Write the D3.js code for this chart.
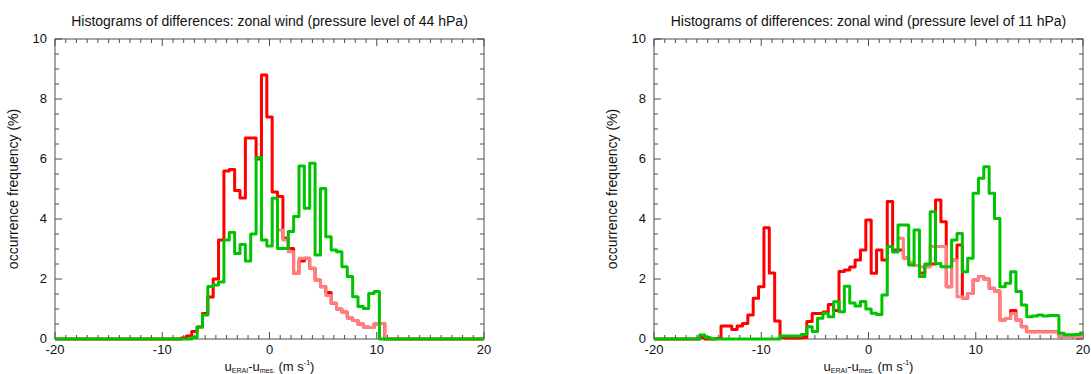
<!DOCTYPE html>
<html>
<head>
<meta charset="utf-8">
<script src="https://cdn.jsdelivr.net/npm/d3@7"></script>
<style>
  body { margin: 0; background: #fff; }
  svg { display: block; font-family: "Liberation Sans", Arial, sans-serif; }
</style>
</head>
<body>
<div id="chart"></div>
<script>
// bins are 0.5 m/s wide, centred on -20, -19.5, ... 20
var binCenters = d3.range(-20, 20.001, 0.5)

var leftRed = [
  0,0,0,0,0,0,0,0,0,0, 0,0,0,0,0,0,0,0,0,0, 0,0,0,0,
  0.03,0.1,0.25,0.4,0.85,1.4,2.0,3.3,5.6,5.65,4.95,4.7,6.7,6.7,6.0,8.8,
  7.4,4.9,4.75,3.36,3.02,2.19,2.6,2.69,2.36,1.97,1.74,1.55,1.19,1.0,0.9,0.7,
  0.62,0.5,0.4,0.38,0.5,0.52,
  0,0,0,0,0,0,0,0,0,0, 0,0,0,0,0,0,0,0,0
]
var leftPink = [
  null,null,null,null,null,null,null,null,null,null, null,null,null,null,null,null,null,null,null,null,
  null,null,null,null,null,null,null,null,null,null, null,null,null,null,null,null,null,null,null,null,
  null,null,3.63,3.3,2.91,2.19,2.69,2.69,2.36,1.97,1.74,1.45,1.19,1.0,0.9,0.7,
  0.62,0.5,0.4,0.38,0.5,0.52,0,
  null,null,null,null,null,null,null,null,null,null,null,null,null,null,null,null,null,null
]
var leftGreen = [
  0,0,0,0,0,0,0,0,0,0, 0,0,0,0,0,0,0,0,0,0, 0,0,0,0,0,0,
  0.05,0.4,0.8,1.75,1.8,1.9,3.3,3.55,2.85,3.15,2.6,3.5,6.05,3.3,
  3.1,4.69,3.02,3.02,3.58,4.08,5.77,4.36,5.86,2.8,5.02,3.41,2.97,2.91,2.41,2.08,
  1.41,1.08,1.02,1.52,1.58,
  0,0,0,0,0,0,0,0,0,0, 0,0,0,0,0,0,0,0,0,0
]

var rightRed = [
  0,0,0,0,0,0,0,0,0,
  0.05,0,0,0.02,0.43,0.43,0.32,0.43,0.52,0.8,1.36,1.74,3.71,2.2,0.6,0.05,
  0.03,0.03,0.03,0.05,0.58,0.85,0.85,0.9,1.15,0.95,2.25,2.3,2.4,2.63,2.97,
  3.97,2.19,2.97,2.63,4.58,2.97,2.97,2.7,2.5,2.45,2.2,2.44,2.5,4.63,3.91,1.74,
  2.63,3.13,1.36,1.52,1.97,2.08,2.0,1.69,1.6,0.63,0.68,0.95,0.63,0.41,0.24,
  0.24,0.24,0.24,0.24,0.24,0.08,0.08,0.08,0.08,0.08
]
var rightPink = [
  null,null,null,null,null,null,null,null,null,null, null,null,null,null,null,null,null,null,null,null,
  null,null,null,null,null,null,null,null,null,null, null,null,null,null,null,null,null,null,null,null,
  null,null,null,null,null,null,
  3.36,2.69,2.55,2.45,2.4,2.4,3.08,3.08,3.08,1.74,
  2.63,1.41,1.36,1.52,1.97,2.08,2.0,1.69,1.6,0.63,0.68,0.85,0.63,0.41,0.24,
  0.24,0.24,0.24,0.24,0.24,0.08,0.08,0.08,0.08,0.08
]
var rightGreen = [
  0,0,0,0,0,0,0,0,0,
  0.13,0.05,0,0,0,0,0,0,0,0,0,0,0,0,0,
  0.1,0.1,0.1,0.1,0.15,0.41,0.25,0.69,0.86,0.74,1.24,0.91,1.76,1.2,1.1,1.25,
  1.0,0.86,0.82,1.47,3.08,2.9,3.8,3.8,2.47,3.63,2.08,2.5,4.24,2.52,2.41,2.41,
  3.3,3.52,2.24,2.69,4.86,5.36,5.74,4.86,4.02,1.74,1.86,2.24,1.58,1.13,0.74,
  0.77,0.8,0.77,0.78,0.78,0.19,0.14,0.14,0.15,0.2
]

var xTicks = [-20, -10, 0, 10, 20]
var yTicks = [0, 2, 4, 6, 8, 10]

var panels = [
  {left: 55, title: "Histograms of differences: zonal wind (pressure level of 44 hPa)",
   red: leftRed, pink: leftPink, green: leftGreen},
  {left: 654, title: "Histograms of differences: zonal wind (pressure level of 11 hPa)",
   red: rightRed, pink: rightPink, green: rightGreen}
]

;(function() {
  var W = 1091, H = 374,
    pw = 429, plotTop = 39, plotBottom = 339,
    axisColor = "#4d4d4d"

  var svg = d3.select("#chart").append("svg")
    .attr("width", W)
    .attr("height", H)

  // turn bin values into step points
  var steps = vals => {
    var pts = []
    vals.forEach((v, i) => {
      var c = binCenters[i]
      if (v === null) { pts.push(null); return }
      pts.push([Math.max(c - 0.25, -20), v])
      pts.push([Math.min(c + 0.25, 20), v])
    })
    return pts
  }

  panels.forEach(p => {
    var x = d3.scaleLinear().domain([-20, 20]).range([p.left, p.left + pw])
    var y = d3.scaleLinear().domain([0, 10]).range([plotBottom, plotTop])
    var g = svg.append("g")

    // frame
    g.append("rect")
      .attr("x", p.left).attr("y", plotTop)
      .attr("width", pw).attr("height", plotBottom - plotTop)
      .attr("fill", "none").attr("stroke", axisColor).attr("stroke-width", 1)

    // minor + major ticks, inward on all four sides
    var xMinor = d3.range(-20, 20.001, 1)
    g.selectAll(".xt").data(xMinor).enter().append("g").each(function(d) {
      var len = d % 10 === 0 ? 7 : 4
      var s = d3.select(this)
      s.append("line").attr("x1", x(d)).attr("x2", x(d)).attr("y1", plotBottom).attr("y2", plotBottom - len)
      s.append("line").attr("x1", x(d)).attr("x2", x(d)).attr("y1", plotTop).attr("y2", plotTop + len)
    }).selectAll("line").attr("stroke", axisColor).attr("stroke-width", 1)

    var yMinor = d3.range(0, 10.001, 0.5)
    g.selectAll(".yt").data(yMinor).enter().append("g").each(function(d) {
      var len = d % 2 === 0 ? 7 : 4
      var s = d3.select(this)
      s.append("line").attr("x1", p.left).attr("x2", p.left + len).attr("y1", y(d)).attr("y2", y(d))
      s.append("line").attr("x1", p.left + pw).attr("x2", p.left + pw - len).attr("y1", y(d)).attr("y2", y(d))
    }).selectAll("line").attr("stroke", axisColor).attr("stroke-width", 1)

    // tick labels
    g.selectAll(".xl").data(xTicks).enter().append("text")
      .attr("x", d => x(d)).attr("y", plotBottom + 15)
      .attr("text-anchor", "middle").attr("font-size", 13).attr("fill", "#111")
      .text(d => d)
    g.selectAll(".yl").data(yTicks).enter().append("text")
      .attr("x", p.left - 8).attr("y", d => y(d) + 3.5)
      .attr("text-anchor", "end").attr("font-size", 13).attr("fill", "#111")
      .text(d => d)

    // title
    g.append("text")
      .attr("x", p.left + pw / 2).attr("y", 26)
      .attr("text-anchor", "middle").attr("font-size", 14).attr("fill", "#111")
      .text(p.title)

    // y label
    g.append("text")
      .attr("transform", "translate(" + (p.left - 37) + "," + ((plotTop + plotBottom) / 2) + ") rotate(-90)")
      .attr("text-anchor", "middle").attr("font-size", 14).attr("fill", "#111")
      .text("occurrence frequency (%)")

    // x label with sub/superscripts
    var xl = g.append("text")
      .attr("x", p.left + pw / 2).attr("y", 371)
      .attr("text-anchor", "middle").attr("font-size", 13).attr("fill", "#111")
    xl.append("tspan").text("u")
    xl.append("tspan").attr("font-size", 7).attr("dy", 2).text("ERAI")
    xl.append("tspan").attr("dy", -2).text("-u")
    xl.append("tspan").attr("font-size", 7).attr("dy", 2).text("mes.")
    xl.append("tspan").attr("dy", -2).text(" (m s")
    xl.append("tspan").attr("font-size", 7).attr("dy", -6).text("-1")
    xl.append("tspan").attr("dy", 6).text(")")

    // histogram lines
    var line = d3.line()
      .defined(d => d !== null)
      .x(d => x(d[0]))
      .y(d => y(d[1]))

    var series = [[p.red, "#ff0000"], [p.pink, "#ff8080"], [p.green, "#00c400"]]
    series.forEach(s => {
      g.append("path")
        .attr("d", line(steps(s[0])))
        .attr("fill", "none")
        .attr("stroke", s[1])
        .attr("stroke-width", 3)
        .attr("stroke-linejoin", "round")
    })
  })
})()
</script>
</body>
</html>
